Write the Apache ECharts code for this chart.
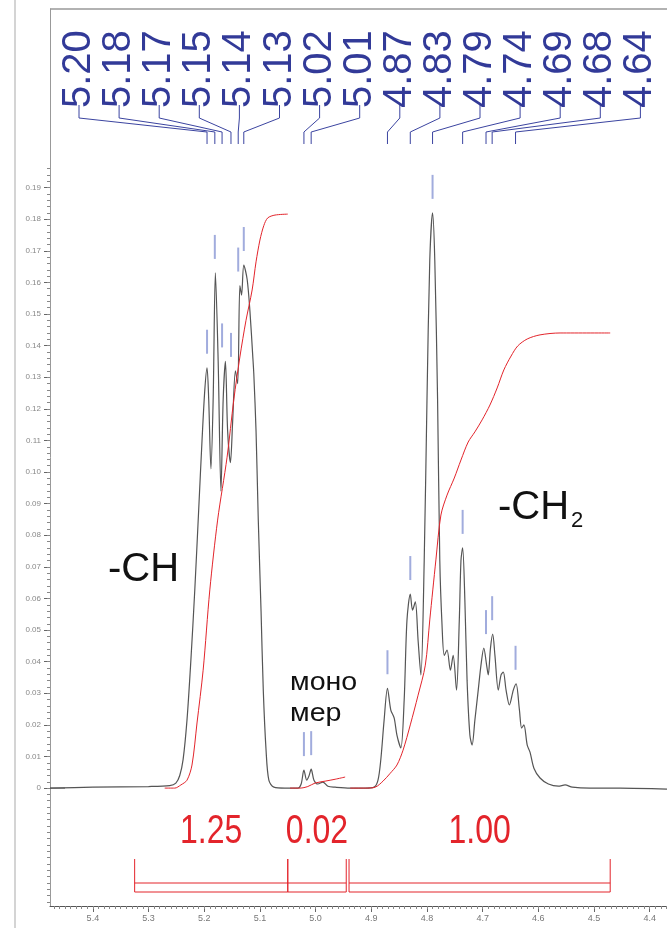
<!DOCTYPE html>
<html>
<head>
<meta charset="utf-8">
<script src="https://cdn.jsdelivr.net/npm/echarts@6/dist/echarts.min.js"></script>
<style>
html, body { margin: 0; padding: 0; background: #fff; }
#main { width: 667px; height: 928px; }
</style>
</head>
<body>
<div id="main"></div>
<script>
// 1H NMR: -CH / мономер / -CH2 region, spectrum + integrals

// spectrum (ppm, intensity)
var specPpm = [5.477, 5.40, 5.30, 5.262, 5.251, 5.244, 5.238, 5.231, 5.224, 5.217, 5.210, 5.204, 5.199, 5.195, 5.192, 5.188, 5.184, 5.180, 5.175, 5.170,
    5.166, 5.162, 5.158, 5.153, 5.149, 5.144, 5.140, 5.136, 5.133, 5.129, 5.123, 5.118, 5.113, 5.111, 5.107, 5.103, 5.098, 5.094, 5.089, 5.084,
    5.075, 5.055, 5.032, 5.026, 5.021, 5.016, 5.012, 5.008, 5.003, 4.996, 4.987, 4.978, 4.965, 4.938, 4.911, 4.895, 4.888, 4.883, 4.877, 4.871,
    4.865, 4.859, 4.854, 4.847, 4.841, 4.836, 4.830, 4.826, 4.821, 4.816, 4.811, 4.805, 4.800, 4.795, 4.790, 4.786, 4.781, 4.777, 4.773, 4.769,
    4.764, 4.758, 4.753, 4.747, 4.742, 4.739, 4.736, 4.732, 4.728, 4.723, 4.719, 4.714, 4.708, 4.703, 4.698, 4.693, 4.690, 4.686, 4.682, 4.678,
    4.672, 4.667, 4.663, 4.658, 4.652, 4.645, 4.640, 4.634, 4.630, 4.626, 4.620, 4.615, 4.608, 4.597, 4.582, 4.564, 4.552, 4.539, 4.507, 4.453, 4.369];
var specVal = [0.0, 0.0003, 0.0005, 0.0008, 0.0016, 0.004, 0.009, 0.0215, 0.0405, 0.0627, 0.088, 0.110, 0.126, 0.133, 0.123, 0.101, 0.123, 0.163, 0.135, 0.094,
    0.123, 0.135, 0.113, 0.103, 0.116, 0.132, 0.128, 0.159, 0.156, 0.1655, 0.161, 0.151, 0.137, 0.131, 0.113, 0.085, 0.056, 0.031, 0.012, 0.0025,
    0.0003, 0.0, 0.0, 0.0013, 0.0057, 0.0025, 0.0038, 0.006, 0.0025, 0.0013, 0.0019, 0.0006, 0.0003, 0.0, 0.0, 0.0003, 0.0025, 0.0089, 0.0215, 0.0316,
    0.0247, 0.0222, 0.0168, 0.0127, 0.0278, 0.053, 0.0614, 0.0563, 0.0589, 0.0468, 0.0358, 0.072, 0.123, 0.167, 0.182, 0.167, 0.123, 0.072, 0.0516, 0.042,
    0.0437, 0.0373, 0.042, 0.031, 0.053, 0.072, 0.076, 0.0595, 0.034, 0.0168, 0.0136, 0.0215, 0.031, 0.039, 0.0443, 0.039, 0.0358, 0.0443, 0.0487, 0.042,
    0.031, 0.0358, 0.0367, 0.031, 0.0263, 0.031, 0.033, 0.0247, 0.019, 0.020, 0.0136, 0.0114, 0.0063, 0.0032, 0.0013, 0.0006, 0.001, 0.0003, 0.0, 0.0, -0.0003];

// integral curves
var intChPpm = [5.271, 5.253, 5.242, 5.231, 5.222, 5.213, 5.202, 5.190, 5.176, 5.159, 5.147, 5.136, 5.125, 5.114, 5.107, 5.100, 5.093, 5.086, 5.073, 5.050];
var intChVal = [0.0, 0.0, 0.001, 0.0025, 0.0073, 0.0206, 0.0373, 0.0627, 0.0848, 0.1047, 0.1228, 0.1364, 0.148, 0.1576, 0.1665, 0.1734, 0.178, 0.1804, 0.1813, 0.1816];
var intMonoPpm = [5.046, 5.028, 5.014, 5.001, 4.983, 4.965, 4.947];
var intMonoVal = [0.0, 0.0, 0.0005, 0.0016, 0.0022, 0.0028, 0.0035];
var intCh2Ppm = [4.938, 4.911, 4.893, 4.879, 4.866, 4.854, 4.843, 4.830, 4.816, 4.803, 4.795, 4.784, 4.775, 4.764, 4.751, 4.739, 4.726, 4.714,
    4.701, 4.687, 4.674, 4.662, 4.649, 4.637, 4.620, 4.597, 4.561, 4.471];
var intCh2Val = [0.0, 0.0, 0.0003, 0.0022, 0.0047, 0.0073, 0.012, 0.020, 0.0294, 0.0389, 0.0532, 0.0722, 0.0864, 0.0927, 0.0981, 0.1038, 0.1095, 0.1127,
    0.1165, 0.1212, 0.1266, 0.1323, 0.1367, 0.1399, 0.1421, 0.1434, 0.144, 0.144];

// picked peaks
var peakPpm = [5.195, 5.181, 5.168, 5.152, 5.139, 5.129, 5.021, 5.008, 4.871, 4.830, 4.790, 4.736, 4.694, 4.683, 4.641];
var peakHeight = [0.133, 0.163, 0.135, 0.132, 0.159, 0.1655, 0.0057, 0.006, 0.0316, 0.0614, 0.182, 0.076, 0.0443, 0.0487, 0.033];
var peakLabels = ['5.20', '5.18', '5.17', '5.15', '5.14', '5.13', '5.02', '5.01', '4.87', '4.83', '4.79', '4.74', '4.69', '4.68', '4.64'];

// integral regions
var intFrom = [5.325, 5.050, 4.940];
var intTo = [5.050, 4.945, 4.471];
var intLabels = ['1.25', '0.02', '1.00'];

// axis ticks
var xTickLabels = [5.4, 5.3, 5.2, 5.1, 5.0, 4.9, 4.8, 4.7, 4.6, 4.5, 4.4];
var yTickLabels = [0, 0.01, 0.02, 0.03, 0.04, 0.05, 0.06, 0.07, 0.08, 0.09, 0.10,
    0.11, 0.12, 0.13, 0.14, 0.15, 0.16, 0.17, 0.18, 0.19];

function zip(a, b) {
    return a.map(function (v, i) { return [v, b[i]]; });
}

var xMinor = [], yMinor = [];
for (var k = 437; k <= 547; k++) xMinor.push(k / 100);
for (var j = -18; j <= 98; j++) yMinor.push(j / 500);

var chart = echarts.init(document.getElementById('main'));

var inkGray = '#666',
    red = '#e3242b',
    navy = '#323a98';

var option = {
    animation: false,
    backgroundColor: '#fff',
    grid: { left: 50, right: 0, top: 9, bottom: 22 },
    xAxis: [{
        type: 'value', inverse: true, min: 4.369, max: 5.477,
        axisLine: { onZero: false, lineStyle: { color: '#555' } },
        axisTick: { customValues: xTickLabels, length: 6, lineStyle: { color: inkGray } },
        axisLabel: {
            customValues: xTickLabels, fontSize: 9, color: '#777', margin: 8,
            formatter: function (v) { return v.toFixed(1); }
        },
        splitLine: { show: false }
    }, {
        type: 'value', inverse: true, min: 4.369, max: 5.477, position: 'bottom',
        axisLine: { show: false, onZero: false },
        axisTick: { customValues: xMinor, length: 3, lineStyle: { color: '#888' } },
        axisLabel: { show: false },
        splitLine: { show: false }
    }],
    yAxis: [{
        type: 'value', min: -0.0373, max: 0.2465,
        axisLine: { show: true, onZero: false, lineStyle: { color: '#999' } },
        axisTick: { customValues: yTickLabels, length: 6, lineStyle: { color: inkGray } },
        axisLabel: {
            customValues: yTickLabels, fontSize: 8, color: '#888', margin: 9,
            formatter: function (v) { return v === 0 ? '0' : v.toFixed(2); }
        },
        splitLine: { show: false }
    }, {
        type: 'value', min: -0.0373, max: 0.2465, position: 'left',
        axisLine: { show: false, onZero: false },
        axisTick: { customValues: yMinor, length: 3, lineStyle: { color: '#888' } },
        axisLabel: { show: false },
        splitLine: { show: false }
    }],
    series: [{
        // spectrum
        type: 'line', data: zip(specPpm, specVal), smooth: 0.3, symbol: 'none',
        lineStyle: { color: '#555', width: 1.2 }, z: 3
    }, {
        type: 'line', data: zip(intChPpm, intChVal), smooth: 0.3, symbol: 'none',
        lineStyle: { color: red, width: 1 }, z: 4
    }, {
        type: 'line', data: zip(intMonoPpm, intMonoVal), smooth: 0.3, symbol: 'none',
        lineStyle: { color: red, width: 1 }, z: 4
    }, {
        type: 'line', data: zip(intCh2Ppm, intCh2Val), smooth: 0.3, symbol: 'none',
        lineStyle: { color: red, width: 1 }, z: 4
    }, {
        // peak markers
        type: 'scatter', data: zip(peakPpm, peakHeight), symbol: 'rect',
        symbolSize: [2, 24], symbolOffset: [0, -26],
        itemStyle: { color: '#8a97d4' }, silent: true, z: 5
    }, {
        // short zero mark at the y axis
        type: 'line', data: [[5.477, 0], [5.45, 0]], symbol: 'none', silent: true,
        lineStyle: { color: '#555', width: 1 }, z: 2
    }, {
        // peak labels at top
        type: 'custom', clip: false, silent: true, z: 6,
        data: zip(peakPpm, peakHeight),
        renderItem: function (params, api) {
            var i = params.dataIndex;
            var px = api.coord([api.value(0), 0])[0];
            var lx = 79 + i * 40.1;
            return {
                type: 'group',
                children: [{
                    type: 'polyline',
                    shape: { points: [[lx, 105], [lx, 118], [px, 132], [px, 144]] },
                    style: { stroke: '#3b44a0', lineWidth: 1, fill: 'none' }
                }, {
                    type: 'text', x: lx, y: 108, rotation: Math.PI / 2,
                    style: {
                        text: peakLabels[i], font: '40px "Liberation Sans"', fill: navy,
                        align: 'left', verticalAlign: 'middle'
                    }
                }]
            };
        }
    }, {
        // integral brackets
        type: 'custom', clip: false, silent: true, z: 6,
        data: zip(intFrom, intTo),
        renderItem: function (params, api) {
            var i = params.dataIndex;
            var x1 = api.coord([intFrom[i], 0])[0],
                x2 = api.coord([intTo[i], 0])[0];
            var ls = { stroke: red, lineWidth: 1 };
            return {
                type: 'group',
                children: [
                    { type: 'line', shape: { x1: x1, y1: 859, x2: x1, y2: 892 }, style: ls },
                    { type: 'line', shape: { x1: x2, y1: 859, x2: x2, y2: 892 }, style: ls },
                    { type: 'line', shape: { x1: x1, y1: 883, x2: x2, y2: 883 }, style: ls },
                    { type: 'line', shape: { x1: x1, y1: 892, x2: x2, y2: 892 }, style: ls },
                    {
                        type: 'text', x: (x1 + x2) / 2, y: 832, scaleX: 0.8,
                        style: {
                            text: intLabels[i], font: '40px "Liberation Sans"', fill: red,
                            align: 'center', verticalAlign: 'middle'
                        }
                    }
                ]
            };
        }
    }],
    graphic: [
        { type: 'line', shape: { x1: 15, y1: 0, x2: 15, y2: 928 }, style: { stroke: '#d4d4d4', lineWidth: 2 } },
        { type: 'line', shape: { x1: 50, y1: 9, x2: 667, y2: 9 }, style: { stroke: '#999', lineWidth: 1.5 } },
        { type: 'text', x: 108, y: 570, style: { text: '-CH', font: '40px "Liberation Sans"', fill: '#111', verticalAlign: 'middle' } },
        { type: 'text', x: 498, y: 508, style: { text: '-CH', font: '40px "Liberation Sans"', fill: '#111', verticalAlign: 'middle' } },
        { type: 'text', x: 571, y: 521, style: { text: '2', font: '22px "Liberation Sans"', fill: '#111', verticalAlign: 'middle' } },
        { type: 'text', x: 290, y: 683, scaleX: 1.1, style: { text: 'моно', font: '26px "Liberation Sans"', fill: '#111', verticalAlign: 'middle' } },
        { type: 'text', x: 290, y: 714, scaleX: 1.1, style: { text: 'мер', font: '26px "Liberation Sans"', fill: '#111', verticalAlign: 'middle' } }
    ]
};

chart.setOption(option);
</script>
</body>
</html>
